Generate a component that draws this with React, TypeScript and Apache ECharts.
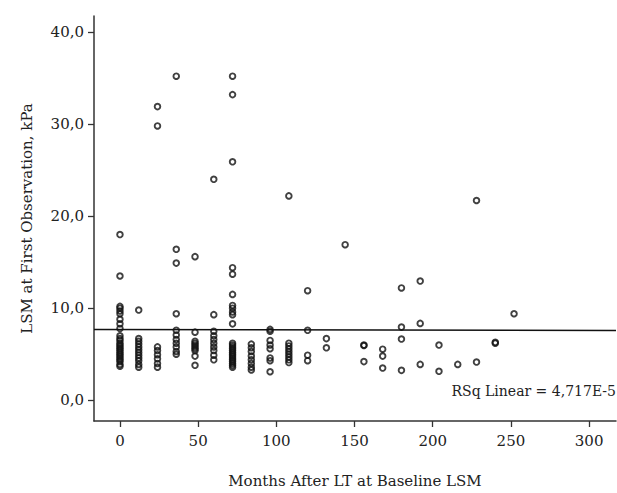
import React, { useEffect, useRef } from "react";
import * as echarts from "echarts";

// Months after LT (x positions of the observation columns)
const months = [0, 12, 24, 36, 48, 60, 72, 84, 96, 108, 120, 132, 144, 156, 168, 180, 192, 204, 216, 228, 240, 252];

// LSM values (kPa) observed at each month column
const lsmAtMonth = [
  [18.0, 13.5, 10.2, 10.0, 9.7, 9.4, 8.8, 8.3, 7.8, 7.0, 6.7, 6.5, 6.2, 6.0, 5.8, 5.6, 5.4, 5.2, 5.0, 4.8, 4.6, 4.4, 4.2, 3.9, 3.7],
  [9.8, 6.7, 6.4, 6.1, 5.8, 5.5, 5.2, 4.9, 4.6, 4.3, 3.9, 3.6],
  [31.9, 29.8, 5.8, 5.4, 4.95, 4.5, 4.0, 3.6],
  [35.2, 16.4, 14.9, 9.4, 7.6, 7.1, 6.6, 6.2, 5.8, 5.3, 5.0],
  [15.6, 7.4, 6.4, 6.2, 6.0, 5.8, 5.6, 5.4, 4.8, 3.8],
  [24.0, 9.3, 7.5, 7.0, 6.6, 6.2, 5.8, 5.4, 4.9, 4.4],
  [35.2, 33.2, 25.9, 14.4, 13.7, 11.5, 10.3, 10.0, 9.6, 9.3, 8.3, 6.2, 6.0, 5.8, 5.6, 5.4, 5.2, 5.0, 4.8, 4.6, 4.4, 4.2, 4.0, 3.8, 3.6],
  [6.1, 5.7, 5.3, 4.8, 4.4, 4.0, 3.6, 3.3],
  [7.7, 7.5, 6.5, 6.0, 5.6, 4.6, 4.3, 3.1],
  [22.2, 6.2, 5.9, 5.6, 5.3, 5.0, 4.7, 4.4, 4.1],
  [11.9, 7.6, 4.9, 4.3],
  [6.7, 5.7],
  [16.9],
  [6.0, 5.95, 4.2],
  [5.55, 4.8, 3.5],
  [12.2, 7.95, 6.65, 3.25],
  [12.95, 8.35, 3.9],
  [6.0, 3.15],
  [3.9],
  [21.7, 4.15],
  [6.3, 6.2],
  [9.4],
];

// Linear fit line (x, y) endpoints
const fitX = [-16.6, 317.2];
const fitY = [7.7, 7.57];

const xTicks = [0, 50, 100, 150, 200, 250, 300];
const yTicks = [0, 10, 20, 30, 40];
const rsqLabel = "RSq Linear = 4,717E-5";

const FONT = '"DejaVu Serif", serif';

export default function App() {
  const ref = useRef<HTMLDivElement>(null);

  useEffect(() => {
    if (!ref.current) return;
    const chart = echarts.init(ref.current, null, { renderer: "svg" });
    const points: number[][] = [];
    months.forEach((m, i) => {
      lsmAtMonth[i].forEach((v) => points.push([m, v]));
    });
    const fitData = fitX.map((x, i) => [x, fitY[i]]);

    chart.setOption({
      animation: false,
      backgroundColor: "#ffffff",
      grid: { left: 94, right: 1, top: 16, bottom: 67, containLabel: false },
      xAxis: {
        type: "value",
        min: -16.6,
        max: 317.2,
        name: "Months After LT at Baseline LSM",
        nameLocation: "middle",
        nameGap: 52,
        nameTextStyle: { fontFamily: FONT, fontSize: 15, color: "#222" },
        axisLine: { show: true, onZero: false, lineStyle: { color: "#333", width: 1.5 } },
        axisTick: { show: true, length: 6, customValues: xTicks, lineStyle: { color: "#333", width: 1.3 } },
        axisLabel: {
          customValues: xTicks,
          fontFamily: FONT,
          fontSize: 15,
          color: "#222",
          margin: 12,
        },
        splitLine: { show: false },
      },
      yAxis: {
        type: "value",
        min: -2.25,
        max: 41.74,
        name: "LSM at First Observation, kPa",
        nameLocation: "middle",
        nameGap: 60,
        nameRotate: 90,
        nameTextStyle: { fontFamily: FONT, fontSize: 15, color: "#222" },
        axisLine: { show: true, onZero: false, lineStyle: { color: "#333", width: 1.5 } },
        axisTick: { show: true, length: 6, customValues: yTicks, lineStyle: { color: "#333", width: 1.3 } },
        axisLabel: {
          customValues: yTicks,
          fontFamily: FONT,
          fontSize: 15,
          color: "#222",
          margin: 10,
          formatter: (v: number) => v.toFixed(1).replace(".", ","),
        },
        splitLine: { show: false },
      },
      series: [
        {
          type: "line",
          data: fitData,
          symbol: "none",
          silent: true,
          lineStyle: { color: "#111", width: 1.5 },
          z: 1,
        },
        {
          type: "scatter",
          data: points,
          symbol: "circle",
          symbolSize: 5.6,
          itemStyle: { color: "rgba(255,255,255,0)", borderColor: "#111", borderWidth: 1.9 },
          z: 2,
        },
      ],
      graphic: [
        {
          type: "text",
          right: 1,
          top: 384,
          style: { text: rsqLabel, font: `14px ${FONT}`, fill: "#222" },
        },
      ],
    });
    return () => chart.dispose();
  }, []);

  return (
    <div
      ref={ref}
      style={{ position: "fixed", left: 0, top: 0, width: 617, height: 493 }}
    />
  );
}
